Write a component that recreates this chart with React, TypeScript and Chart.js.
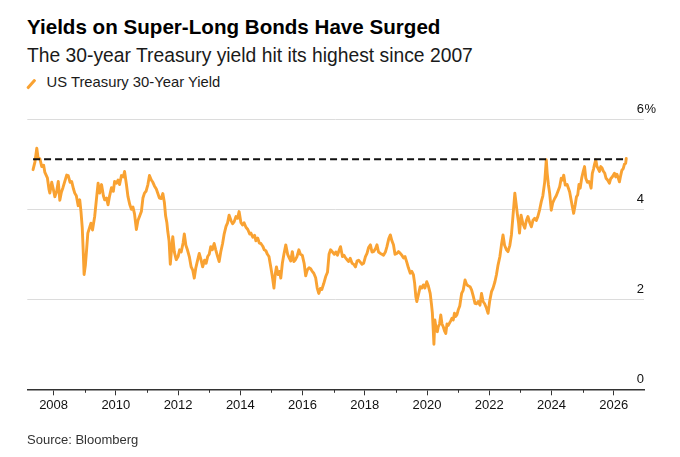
import React, { useEffect, useRef } from "react";
import { Chart, registerables } from "chart.js";

Chart.register(...registerables);

// Decimal-year dates and US Treasury 30-year yield (%)
const dates: number[] = [
  2007.34, 2007.40, 2007.46, 2007.50, 2007.56, 2007.62, 2007.68, 2007.72, 2007.80, 2007.85, 2007.88, 2007.94, 2007.99,
  2008.04, 2008.10, 2008.15, 2008.20, 2008.25, 2008.30, 2008.36, 2008.42, 2008.47, 2008.53, 2008.58, 2008.64, 2008.68, 2008.73, 2008.79, 2008.84, 2008.88, 2008.92, 2008.95, 2008.98,
  2009.02, 2009.06, 2009.10, 2009.16, 2009.20, 2009.25, 2009.32, 2009.38, 2009.43, 2009.48, 2009.54, 2009.60, 2009.64, 2009.70, 2009.75, 2009.80, 2009.86, 2009.92, 2009.96,
  2010.02, 2010.07, 2010.12, 2010.18, 2010.24, 2010.28, 2010.34, 2010.39, 2010.45, 2010.50, 2010.55, 2010.60, 2010.66, 2010.71, 2010.76, 2010.82, 2010.87, 2010.92, 2010.97,
  2011.03, 2011.08, 2011.14, 2011.19, 2011.24, 2011.30, 2011.35, 2011.40, 2011.46, 2011.51, 2011.56, 2011.60, 2011.64, 2011.67, 2011.71, 2011.75, 2011.80, 2011.83, 2011.88, 2011.94,
  2012.00, 2012.05, 2012.10, 2012.16, 2012.20, 2012.25, 2012.30, 2012.36, 2012.42, 2012.47, 2012.52, 2012.57, 2012.62, 2012.68, 2012.73, 2012.79, 2012.85, 2012.90, 2012.95,
  2013.00, 2013.05, 2013.10, 2013.16, 2013.21, 2013.27, 2013.32, 2013.37, 2013.43, 2013.48, 2013.54, 2013.59, 2013.64, 2013.70, 2013.75, 2013.80, 2013.86, 2013.91, 2013.96,
  2014.02, 2014.07, 2014.12, 2014.18, 2014.24, 2014.30, 2014.34, 2014.40, 2014.46, 2014.50, 2014.56, 2014.61, 2014.66, 2014.72, 2014.77, 2014.82, 2014.87, 2014.92, 2014.97,
  2015.03, 2015.08, 2015.12, 2015.16, 2015.21, 2015.26, 2015.30, 2015.35, 2015.40, 2015.46, 2015.52, 2015.57, 2015.62, 2015.67, 2015.72, 2015.77, 2015.82, 2015.88, 2015.93, 2015.99,
  2016.05, 2016.10, 2016.15, 2016.21, 2016.26, 2016.31, 2016.36, 2016.42, 2016.47, 2016.52, 2016.57, 2016.62, 2016.68, 2016.74, 2016.80, 2016.85, 2016.90, 2016.96,
  2017.02, 2017.07, 2017.12, 2017.18, 2017.22, 2017.28, 2017.33, 2017.38, 2017.43, 2017.48, 2017.53, 2017.59, 2017.64, 2017.70, 2017.75, 2017.80, 2017.86, 2017.91, 2017.96,
  2018.02, 2018.07, 2018.12, 2018.18, 2018.23, 2018.28, 2018.34, 2018.39, 2018.44, 2018.50, 2018.55, 2018.60, 2018.66, 2018.71, 2018.77, 2018.82, 2018.87, 2018.92, 2018.97,
  2019.03, 2019.08, 2019.14, 2019.19, 2019.24, 2019.29, 2019.35, 2019.40, 2019.46, 2019.51, 2019.56, 2019.60, 2019.64, 2019.67, 2019.72, 2019.78, 2019.83, 2019.88, 2019.93, 2019.99,
  2020.04, 2020.10, 2020.14, 2020.17, 2020.20, 2020.22, 2020.25, 2020.29, 2020.33, 2020.36, 2020.40, 2020.44, 2020.48, 2020.52, 2020.56, 2020.60, 2020.64, 2020.68, 2020.72, 2020.76, 2020.80, 2020.84, 2020.88, 2020.92, 2020.96,
  2021.00, 2021.05, 2021.11, 2021.16, 2021.22, 2021.27, 2021.32, 2021.38, 2021.43, 2021.48, 2021.54, 2021.59, 2021.64, 2021.70, 2021.75, 2021.80, 2021.85, 2021.91, 2021.96,
  2022.01, 2022.07, 2022.12, 2022.18, 2022.23, 2022.28, 2022.34, 2022.39, 2022.44, 2022.49, 2022.55, 2022.60, 2022.66, 2022.71, 2022.76, 2022.82, 2022.86, 2022.90, 2022.94, 2022.97,
  2023.02, 2023.08, 2023.14, 2023.19, 2023.24, 2023.30, 2023.35, 2023.40, 2023.46, 2023.51, 2023.56, 2023.62, 2023.67, 2023.72, 2023.78, 2023.81, 2023.83, 2023.86, 2023.90, 2023.94, 2023.99,
  2024.04, 2024.10, 2024.15, 2024.20, 2024.26, 2024.31, 2024.36, 2024.39, 2024.44, 2024.50, 2024.55, 2024.58, 2024.63, 2024.67, 2024.71, 2024.76, 2024.80, 2024.84, 2024.88, 2024.92, 2024.97,
  2025.02, 2025.06, 2025.10, 2025.15, 2025.20, 2025.24, 2025.27, 2025.31, 2025.35, 2025.38, 2025.42, 2025.46, 2025.50, 2025.54, 2025.58, 2025.62, 2025.66, 2025.71, 2025.75, 2025.80, 2025.86, 2025.90, 2025.96,
  2026.02, 2026.06, 2026.10, 2026.14, 2026.18, 2026.22, 2026.26, 2026.30, 2026.34, 2026.38, 2026.40,
];

const yields: number[] = [
  4.88, 5.05, 5.36, 5.15, 5.12, 4.95, 4.98, 4.82, 4.70, 4.45, 4.36, 4.60, 4.45,
  4.28, 4.40, 4.62, 4.20, 4.38, 4.48, 4.62, 4.76, 4.75, 4.60, 4.62, 4.45, 4.36, 4.30, 4.08, 4.21, 3.95, 3.60, 3.10, 2.55,
  2.75, 3.10, 3.47, 3.60, 3.69, 3.54, 3.84, 4.25, 4.58, 4.36, 4.55, 4.30, 4.21, 4.25, 4.10, 4.30, 4.48, 4.40, 4.62,
  4.58, 4.65, 4.55, 4.75, 4.72, 4.84, 4.55, 4.28, 4.10, 4.00, 4.05, 3.90, 3.55, 3.75, 3.84, 3.95, 4.25, 4.36, 4.40,
  4.55, 4.75, 4.65, 4.60, 4.52, 4.45, 4.35, 4.25, 4.24, 4.35, 4.15, 3.85, 3.70, 3.50, 3.30, 2.78, 3.20, 3.39, 3.05, 2.88,
  2.95, 3.10, 3.05, 3.25, 3.45, 3.20, 3.10, 2.95, 2.72, 2.65, 2.47, 2.70, 2.85, 3.02, 2.90, 2.72, 2.87, 2.80, 2.95,
  3.00, 3.17, 3.10, 3.24, 3.10, 2.95, 2.84, 3.05, 3.24, 3.45, 3.62, 3.70, 3.87, 3.75, 3.68, 3.72, 3.84, 3.80, 3.95,
  3.70, 3.65, 3.70, 3.60, 3.55, 3.45, 3.47, 3.38, 3.42, 3.30, 3.36, 3.25, 3.24, 3.18, 3.10, 3.08, 3.00, 2.95, 2.75,
  2.50, 2.25, 2.55, 2.72, 2.55, 2.62, 2.47, 2.80, 3.00, 3.21, 3.00, 2.92, 2.85, 3.06, 2.84, 2.88, 2.95, 3.10, 3.00, 2.98,
  2.80, 2.52, 2.65, 2.70, 2.68, 2.62, 2.58, 2.48, 2.25, 2.13, 2.24, 2.22, 2.35, 2.50, 2.60, 3.00, 3.10, 3.05,
  3.00, 3.05, 2.98, 3.10, 3.17, 2.95, 2.98, 2.92, 2.88, 2.84, 2.91, 2.80, 2.78, 2.72, 2.85, 2.87, 2.82, 2.78, 2.80,
  2.95, 3.02, 3.15, 3.21, 3.05, 3.06, 3.12, 3.21, 3.05, 3.02, 3.00, 2.98, 3.05, 3.17, 3.35, 3.43, 3.30, 3.21, 3.00,
  3.02, 3.06, 3.02, 2.98, 2.92, 2.95, 2.82, 2.70, 2.58, 2.62, 2.55, 2.36, 2.05, 1.95, 2.10, 2.28, 2.25, 2.32, 2.25, 2.39,
  2.30, 2.13, 1.90, 1.70, 1.30, 1.00, 1.54, 1.35, 1.28, 1.39, 1.45, 1.65, 1.45, 1.39, 1.30, 1.24, 1.45, 1.42, 1.47, 1.52, 1.58, 1.54, 1.69, 1.62, 1.66,
  1.76, 1.85, 2.13, 2.20, 2.43, 2.33, 2.30, 2.28, 2.21, 2.08, 1.91, 1.90, 1.95, 1.87, 2.13, 1.95, 1.90, 1.80, 1.69,
  1.95, 2.17, 2.25, 2.39, 2.55, 2.76, 2.95, 3.21, 3.43, 3.20, 3.10, 3.06, 3.20, 3.43, 3.85, 4.36, 4.13, 3.90, 3.70, 3.47,
  3.87, 3.68, 3.58, 3.75, 3.84, 3.70, 3.61, 3.75, 3.80, 3.75, 3.84, 4.00, 4.17, 4.30, 4.61, 4.90, 5.10, 4.80, 4.54, 4.35, 3.98,
  4.15, 4.24, 4.30, 4.39, 4.50, 4.69, 4.65, 4.76, 4.54, 4.55, 4.45, 4.39, 4.20, 4.05, 3.91, 4.10, 4.28, 4.32, 4.55, 4.47, 4.70,
  4.85, 4.95, 4.69, 4.60, 4.62, 4.55, 4.47, 4.80, 4.90, 5.00, 5.10, 4.95, 4.90, 4.84, 4.95, 4.92, 4.85, 4.80, 4.69, 4.65, 4.58, 4.68, 4.73,
  4.80, 4.72, 4.78, 4.70, 4.61, 4.75, 4.87, 4.90, 5.00, 5.02, 5.13,
];

const refLevel = 5.11; // dashed line: 2023 high
const yTickValues: number[] = [0, 2, 4, 6];
const xTickYears: number[] = [
  2008, 2009, 2010, 2011, 2012, 2013, 2014, 2015, 2016, 2017,
  2018, 2019, 2020, 2021, 2022, 2023, 2024, 2025, 2026,
];
const xMin = 2007.155;
const xMax = 2026.97;

const TEXT_FONT = "'Liberation Sans', Arial, sans-serif";
const ORANGE = "#F9A232";

const labelsPlugin = {
  id: "bbgLabels",
  afterDraw(chart: any) {
    const { ctx, chartArea, scales } = chart;
    const x = scales.x;
    const y = scales.y;
    ctx.save();
    // minor ticks on odd years
    ctx.strokeStyle = "#333";
    ctx.lineWidth = 1;
    xTickYears.forEach((yr) => {
      if (yr % 2 !== 0) {
        const px = Math.round(x.getPixelForValue(yr)) + 0.5;
        ctx.beginPath();
        ctx.moveTo(px, chartArea.bottom);
        ctx.lineTo(px, chartArea.bottom + 3.5);
        ctx.stroke();
      }
    });
    // y labels above grid lines, right aligned
    ctx.fillStyle = "#111";
    ctx.font = `13px ${TEXT_FONT}`;
    ctx.textBaseline = "alphabetic";
    yTickValues.forEach((v) => {
      const py = y.getPixelForValue(v) - 6.5;
      ctx.textAlign = "right";
      ctx.fillText(String(v), chartArea.right, py);
      if (v === 6) {
        ctx.textAlign = "left";
        ctx.fillText("%", chartArea.right + 0.5, py);
      }
    });
    ctx.restore();
  },
};

export default function App() {
  const canvasRef = useRef<HTMLCanvasElement | null>(null);

  useEffect(() => {
    if (!canvasRef.current) return;
    const chart = new Chart(canvasRef.current, {
      type: "line",
      data: {
        datasets: [
          {
            label: "2023 high",
            data: [
              { x: dates[0], y: refLevel },
              { x: dates[dates.length - 1], y: refLevel },
            ],
            borderColor: "#111",
            borderWidth: 2,
            borderDash: [7, 4],
            pointRadius: 0,
            fill: false,
          },
          {
            label: "US Treasury 30-Year Yield",
            data: dates.map((d, i) => ({ x: d, y: yields[i] })),
            borderColor: ORANGE,
            borderWidth: 2.9,
            borderJoinStyle: "round",
            borderCapStyle: "round",
            pointRadius: 0,
            tension: 0,
            fill: false,
          },
        ],
      },
      options: {
        animation: false,
        responsive: false,
        maintainAspectRatio: false,
        devicePixelRatio: 1,
        layout: { padding: { left: 27.3, right: 36, top: 119.3, bottom: 37.7 } },
        plugins: {
          legend: { display: false },
          tooltip: { enabled: false },
          title: { display: false },
        },
        scales: {
          x: {
            type: "linear",
            position: "bottom",
            min: xMin,
            max: xMax,
            afterBuildTicks: (scale: any) => {
              scale.ticks = xTickYears.map((v) => ({ value: v }));
            },
            afterFit: (scale: any) => {
              scale.height = 30;
            },
            ticks: {
              autoSkip: false,
              maxRotation: 0,
              padding: 2,
              color: "#111",
              font: { family: TEXT_FONT, size: 13 },
              callback: (v: any) => (Number(v) % 2 === 0 ? String(v) : ""),
            },
            grid: {
              display: true,
              drawOnChartArea: false,
              drawTicks: true,
              tickLength: 6,
              tickWidth: 1,
              tickColor: (c: any) =>
                c.tick && c.tick.value % 2 === 0 ? "#333" : "rgba(0,0,0,0)",
            },
            border: { display: true, color: "#333", width: 1.5 },
          },
          y: {
            type: "linear",
            position: "right",
            min: 0,
            max: 6,
            afterBuildTicks: (scale: any) => {
              scale.ticks = yTickValues.map((v) => ({ value: v }));
            },
            ticks: { display: false },
            grid: { color: "#dcdcdc", lineWidth: 1, drawTicks: false },
            border: { display: false },
          },
        },
      },
      plugins: [labelsPlugin],
    } as any);
    return () => chart.destroy();
  }, []);

  const base: React.CSSProperties = {
    position: "absolute",
    margin: 0,
    whiteSpace: "nowrap",
    fontFamily: TEXT_FONT,
  };

  return (
    <div
      style={{
        position: "absolute",
        left: 0,
        top: 0,
        width: 680,
        height: 457,
        background: "#fff",
        overflow: "hidden",
      }}
    >
      <div
        style={{
          ...base,
          left: 27,
          top: 17,
          fontSize: 20.6,
          lineHeight: "20.6px",
          fontWeight: 700,
          color: "#000",
        }}
      >
        Yields on Super-Long Bonds Have Surged
      </div>
      <div
        style={{
          ...base,
          left: 27,
          top: 45.5,
          fontSize: 19.3,
          lineHeight: "19.3px",
          color: "#1a1a1a",
        }}
      >
        The 30-year Treasury yield hit its highest since 2007
      </div>
      <div
        style={{
          position: "absolute",
          left: 29.9,
          top: 77.6,
          width: 2.6,
          height: 11.6,
          background: ORANGE,
          borderRadius: 1,
          transform: "rotate(41.5deg)",
        }}
      />
      <div
        style={{
          ...base,
          left: 46.5,
          top: 75.2,
          fontSize: 14.8,
          lineHeight: "14.8px",
          color: "#1a1a1a",
        }}
      >
        US Treasury 30-Year Yield
      </div>
      <canvas
        ref={canvasRef}
        width={680}
        height={457}
        style={{ position: "absolute", left: 0, top: 0, width: 680, height: 457 }}
      />
      <div
        style={{
          ...base,
          left: 27,
          top: 432.5,
          fontSize: 13,
          lineHeight: "13px",
          color: "#333",
        }}
      >
        Source: Bloomberg
      </div>
    </div>
  );
}
